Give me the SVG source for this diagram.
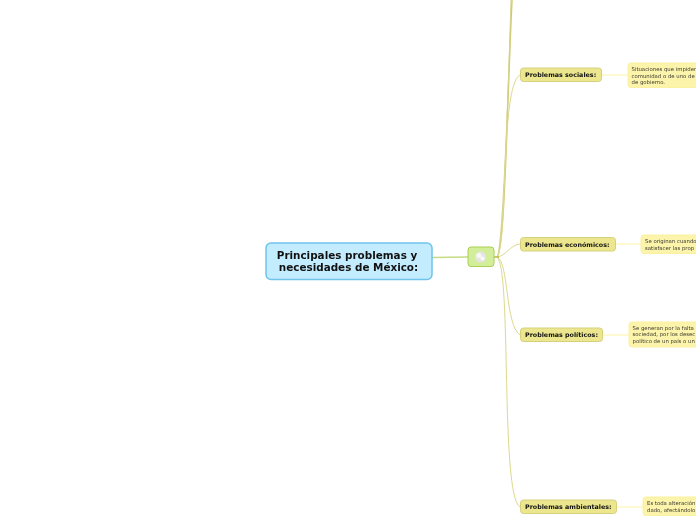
<svg xmlns="http://www.w3.org/2000/svg" width="696" height="520" viewBox="0 0 696 520">
<defs>
<filter id="gray" x="-5%" y="-20%" width="110%" height="140%" color-interpolation-filters="sRGB"><feOffset dx="0" dy="0"/></filter>
</defs>
<style>
text{font-family:"DejaVu Sans",Verdana,sans-serif;filter:url(#gray);}
.t{font-weight:bold;font-size:6.35px;fill:#111;}
.d{font-size:5.35px;fill:#3a3a30;}
.sub{fill:#ece78f;stroke:#d5d07c;stroke-width:1;}
.note{fill:#fdf4ab;stroke:#fbf0a0;stroke-width:1;}
.c{fill:none;stroke:#dcd98e;stroke-width:1;}
.n{fill:none;stroke:#fbf3a6;stroke-width:1;}
</style>
<rect width="696" height="520" fill="#fff"/>
<g id="connectors">
<path d="M432 257.500L468 257" fill="none" stroke="#c5dc82" stroke-width="1.500"/>
<path class="c" d="M497 257C505 250 507 100 512 0" style="stroke:#cfcb70;stroke-width:1.500"/>
<path class="c" d="M497 257C504 250 511 0 511 0" style="stroke:#d5d28a"/>
<path class="c" d="M497 257C508 245 500 85 520 75"/>
<path class="c" d="M497 257C506 256 510 245 520 244"/>
<path class="c" d="M497 257C509 262 505 325 520 335"/>
<path class="c" d="M497 257C512 270 500 495 520 507"/>
<path d="M494 257H499" fill="none" stroke="#c2b44a" stroke-width="1.500"/>
<path class="n" d="M602 75H628"/>
<path class="n" d="M616 244H641"/>
<path class="n" d="M603 335H629"/>
<path class="n" d="M617 507H643"/>
</g>
<g id="root">
<rect x="266" y="243" width="166" height="36.500" rx="5" fill="#c4ecff" stroke="#6fc3ec" stroke-width="1.500"/>
<text x="347" y="259" font-size="10.400" font-weight="bold" fill="#111" text-anchor="middle">Principales problemas y</text>
<text x="348.500" y="271" font-size="10.400" font-weight="bold" fill="#111" text-anchor="middle">necesidades de México:</text>
</g>
<g id="hub">
<rect x="468" y="247" width="26" height="19.500" rx="3" fill="#d3ee9a" stroke="#a9cf53" stroke-width="1"/>
<circle cx="480.500" cy="257" r="5.500" fill="#e4e4e0"/>
<circle cx="479" cy="255.500" r="2.500" fill="#f7f7f5"/>
<circle cx="482.500" cy="258.500" r="2" fill="#fafafa"/>
</g>
<g id="social">
<rect class="sub" x="520.500" y="68" width="81" height="13.500" rx="3"/>
<text class="t" x="525" y="77">Problemas sociales:</text>
</g>
<g id="social-note">
<rect class="note" x="628" y="63" width="70" height="24.500" rx="3"/>
<text class="d" x="631.500" y="71">Situaciones que impiden</text>
<text class="d" x="631.500" y="77.500">comunidad o de uno de</text>
<text class="d" x="631.500" y="84">de gobierno.</text>
</g>
<g id="economic">
<rect class="sub" x="520.500" y="237.500" width="95" height="13.500" rx="3"/>
<text class="t" x="525" y="246.500">Problemas económicos:</text>
</g>
<g id="economic-note">
<rect class="note" x="641" y="235" width="57" height="18.500" rx="3"/>
<text class="d" x="645" y="243">Se originan cuando</text>
<text class="d" x="645" y="249.500">satisfacer las prop</text>
</g>
<g id="political">
<rect class="sub" x="520.500" y="328" width="82" height="13.500" rx="3"/>
<text class="t" x="525" y="337">Problemas políticos:</text>
</g>
<g id="political-note">
<rect class="note" x="629" y="322" width="69" height="25" rx="3"/>
<text class="d" x="632.500" y="329.500">Se generan por la falta</text>
<text class="d" x="632.500" y="336">sociedad, por los desec</text>
<text class="d" x="632.500" y="342.500">político de un país o un</text>
</g>
<g id="environmental">
<rect class="sub" x="520.500" y="500" width="96" height="13.500" rx="3"/>
<text class="t" x="525" y="509">Problemas ambientales:</text>
</g>
<g id="environmental-note">
<rect class="note" x="643" y="497" width="55" height="18.500" rx="3"/>
<text class="d" x="647" y="505">Es toda alteración</text>
<text class="d" x="647" y="511.500">dado, afectándolo</text>
</g>
</svg>
